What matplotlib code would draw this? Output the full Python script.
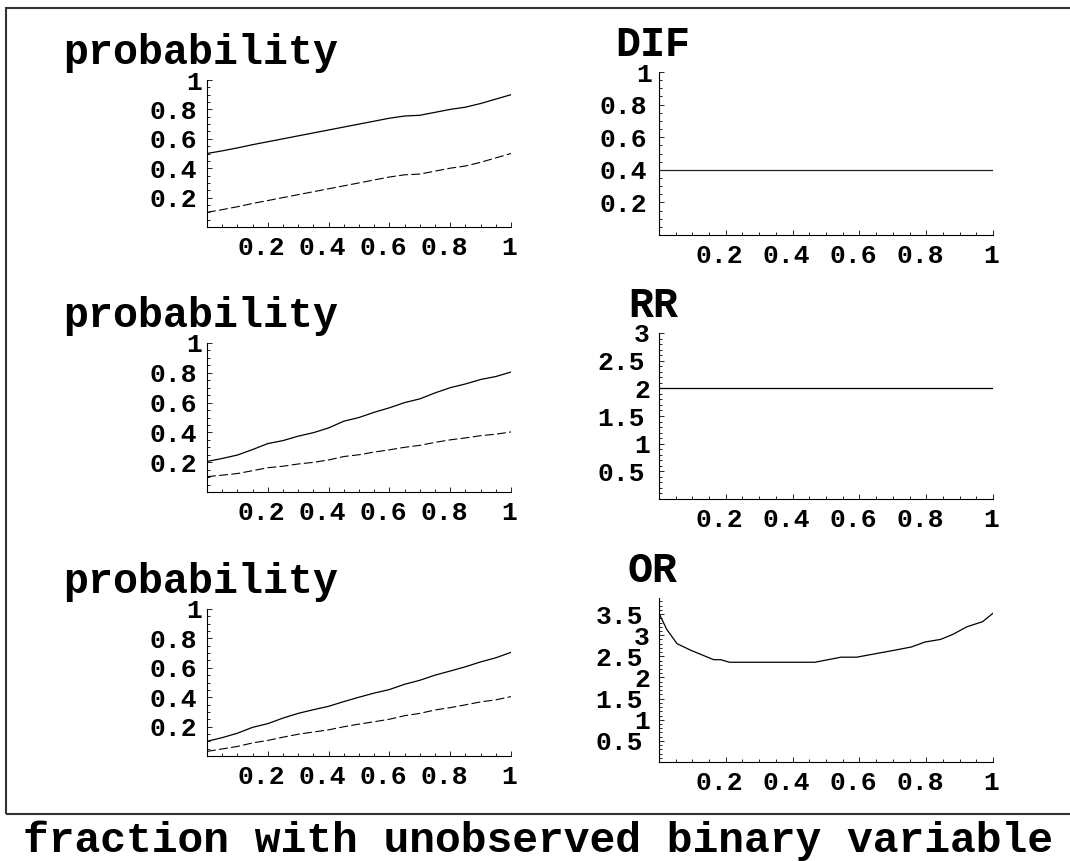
import matplotlib.pyplot as plt
import matplotlib.transforms as mtransforms
from matplotlib.ticker import MultipleLocator
from matplotlib.patches import Rectangle

plt.rcParams['font.family'] = ['Liberation Mono', 'DejaVu Sans Mono']
plt.rcParams['font.weight'] = 'bold'

# fraction with unobserved binary variable
frac = [0.0, 0.05, 0.10, 0.15, 0.20, 0.25, 0.30, 0.35, 0.40, 0.45, 0.50,
        0.55, 0.60, 0.65, 0.70, 0.75, 0.80, 0.85, 0.90, 0.95, 1.0]

# scenario 1 (constant difference)
p1_solid = [0.500, 0.518, 0.538, 0.560, 0.580, 0.600, 0.620, 0.640, 0.660, 0.680, 0.700,
            0.720, 0.740, 0.755, 0.760, 0.780, 0.800, 0.815, 0.840, 0.870, 0.900]
p1_dash = [0.100, 0.118, 0.138, 0.160, 0.180, 0.200, 0.220, 0.240, 0.260, 0.280, 0.300,
           0.320, 0.340, 0.355, 0.360, 0.380, 0.400, 0.415, 0.440, 0.470, 0.500]
dif = [0.4] * 21

# scenario 2 (constant risk ratio)
p2_solid = [0.205, 0.225, 0.248, 0.285, 0.325, 0.345, 0.375, 0.398, 0.430, 0.475, 0.500,
            0.535, 0.565, 0.600, 0.625, 0.665, 0.700, 0.725, 0.755, 0.775, 0.805]
p2_dash = [0.103, 0.113, 0.124, 0.143, 0.163, 0.173, 0.188, 0.199, 0.215, 0.238, 0.250,
           0.268, 0.283, 0.300, 0.313, 0.333, 0.350, 0.363, 0.378, 0.388, 0.403]
rr = [2.0] * 21

# scenario 3 (odds ratio varies)
p3_solid = [0.100, 0.125, 0.155, 0.195, 0.220, 0.258, 0.290, 0.315, 0.338, 0.370, 0.400,
            0.428, 0.452, 0.488, 0.515, 0.550, 0.578, 0.607, 0.640, 0.668, 0.705]
p3_dash = [0.031, 0.048, 0.065, 0.089, 0.106, 0.128, 0.148, 0.163, 0.178, 0.199, 0.217,
           0.233, 0.250, 0.274, 0.290, 0.313, 0.329, 0.348, 0.368, 0.382, 0.404]
or_x = [0.0, 0.023, 0.054, 0.096, 0.164, 0.185, 0.211, 0.30, 0.40, 0.467, 0.545,
        0.592, 0.702, 0.755, 0.797, 0.843, 0.88, 0.922, 0.969, 1.0]
or_y = [3.52, 3.14, 2.80, 2.64, 2.42, 2.42, 2.36, 2.36, 2.36, 2.36, 2.48,
        2.48, 2.64, 2.72, 2.84, 2.90, 3.02, 3.20, 3.32, 3.52]

xticks = [0.2, 0.4, 0.6, 0.8, 1.0]
xticklabels = ['0.2', '0.4', '0.6', '0.8', '1']
prob_ticks = [0.2, 0.4, 0.6, 0.8, 1.0]
prob_labels = ['0.2', '0.4', '0.6', '0.8', '1']
ratio_ticks = [0.5, 1.0, 1.5, 2.0, 2.5, 3.0, 3.5]
ratio_labels = ['0.5', '1', '1.5', '2', '2.5', '3', '3.5']

W, H = 1070, 861
fig = plt.figure(figsize=(W / 100, H / 100), dpi=100)


def px(v):
    return v * 72 / 100


def shift(dx):
    return mtransforms.ScaledTranslation(dx / 100, 0, fig.dpi_scale_trans)


def make_axes(left, top, right, bottom):
    return fig.add_axes([left / W, 1 - bottom / H, (right - left) / W, (bottom - top) / H])


def style(ax, title, ymax, yt, ylab, yminor, ypad, one_shift):
    ax.set_xlim(0, 1)
    ax.set_ylim(0, ymax)
    for s in ['top', 'right']:
        ax.spines[s].set_visible(False)
    for s in ['left', 'bottom']:
        ax.spines[s].set_linewidth(0.8)
    ax.set_xticks(xticks)
    ax.set_xticklabels(xticklabels)
    n = len([t for t in yt if t <= ymax + 1e-9])
    ax.set_yticks(yt[:n])
    ax.set_yticklabels(ylab[:n])
    ax.xaxis.set_minor_locator(MultipleLocator(0.05))
    ax.yaxis.set_minor_locator(MultipleLocator(yminor))
    ax.tick_params(which='both', direction='in', width=0.6, labelsize=19)
    ax.tick_params(which='major', length=px(5))
    ax.tick_params(which='minor', length=px(3))
    ax.tick_params(axis='x', pad=px(9))
    ax.tick_params(axis='y', pad=px(ypad))
    # Mathematica style label offsets
    for lab in ax.get_yticklabels():
        if len(lab.get_text()) == 1:
            lab.set_transform(lab.get_transform() + shift(one_shift))
    for lab in ax.get_xticklabels():
        dx = -2 if len(lab.get_text()) == 1 else -6
        lab.set_transform(lab.get_transform() + shift(dx))
    ax.annotate(title, xy=(0, 1), xycoords=('data', 'axes fraction'),
                xytext=(px(-6), px(16)), textcoords='offset points',
                ha='center', va='baseline', fontsize=30, annotation_clip=False)


lw = 0.9
dash = (0, (8, 3))

# row 1
ax = make_axes(207, 80, 511, 227)
ax.plot(frac, p1_solid, color='black', lw=lw)
ax.plot(frac, p1_dash, color='black', lw=0.8, linestyle=dash)
style(ax, 'probability', 1.0, prob_ticks, prob_labels, 0.05, 10, 5)

ax = make_axes(659, 72, 993, 235)
ax.plot(frac, dif, color='#222222', lw=lw)
style(ax, 'DIF', 1.0, prob_ticks, prob_labels, 0.05, 12, 5)

# row 2
ax = make_axes(207, 343, 511, 492)
ax.plot(frac, p2_solid, color='black', lw=lw)
ax.plot(frac, p2_dash, color='black', lw=0.8, linestyle=dash)
style(ax, 'probability', 1.0, prob_ticks, prob_labels, 0.05, 10, 5)

ax = make_axes(659, 333, 993, 499)
ax.plot(frac, rr, color='black', lw=lw)
style(ax, 'RR', 3.0, ratio_ticks, ratio_labels, 0.1, 14, 5)

# row 3
ax = make_axes(207, 609, 511, 756)
ax.plot(frac, p3_solid, color='black', lw=lw)
ax.plot(frac, p3_dash, color='black', lw=0.8, linestyle=dash)
style(ax, 'probability', 1.0, prob_ticks, prob_labels, 0.05, 10, 5)

ax = make_axes(659, 598, 993, 762)
ax.plot(or_x, or_y, color='black', lw=lw)
style(ax, 'OR', 3.88, ratio_ticks, ratio_labels, 0.1, 16, 7)

# frame around the graphics array
fig.add_artist(Rectangle((6 / W, 1 - 814 / H), 1.2, 806 / H, transform=fig.transFigure,
                         fill=False, lw=1.5, ec='#333333'))

fig.text(538 / W, 1 - 852 / H, 'fraction with unobserved binary variable',
         ha='center', va='baseline', fontsize=31)

fig.savefig('out.png', dpi=100)
